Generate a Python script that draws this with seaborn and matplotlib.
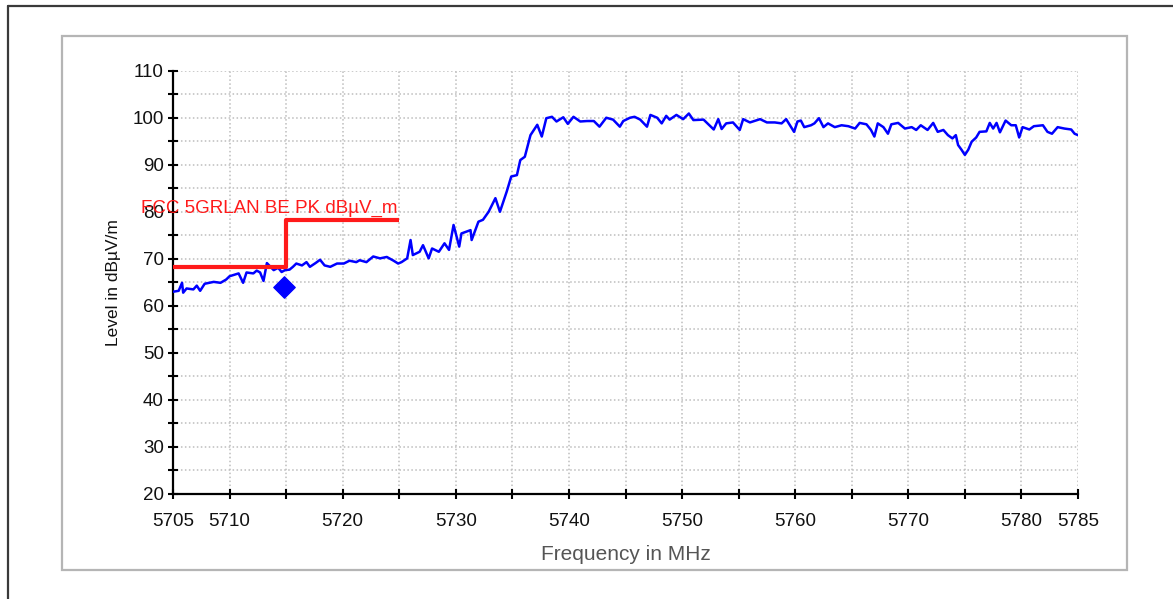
import matplotlib
matplotlib.use("Agg")
import matplotlib.pyplot as plt
from matplotlib.patches import Rectangle
from matplotlib.lines import Line2D
from matplotlib.ticker import FixedLocator
import pandas as pd
import seaborn as sns

# Measured emission trace (MHz, dBuV/m)
freq_mhz = [
    5705.0, 5705.5, 5705.8, 5705.9, 5706.2, 5706.8, 5707.1, 5707.4, 5707.8, 5708.6,
    5709.2, 5709.7, 5710.0, 5710.8, 5711.2, 5711.5, 5712.1, 5712.4, 5712.7, 5713.0,
    5713.3, 5713.9, 5714.3, 5714.6, 5714.9, 5715.3, 5715.6, 5715.9, 5716.4, 5716.8,
    5717.1, 5717.6, 5718.0, 5718.4, 5718.9, 5719.5, 5720.1, 5720.6, 5721.2, 5721.5,
    5722.1, 5722.7, 5723.3, 5723.9, 5724.5, 5724.9, 5725.2, 5725.7, 5726.0, 5726.2,
    5726.8, 5727.1, 5727.6, 5727.9, 5728.5, 5729.0, 5729.4, 5729.8, 5730.3, 5730.5,
    5731.3, 5731.4, 5732.0, 5732.4, 5732.9, 5733.5, 5733.9, 5734.5, 5734.9, 5735.4,
    5735.7, 5736.1, 5736.6, 5737.2, 5737.6, 5738.0, 5738.5, 5738.9, 5739.5, 5739.9,
    5740.4, 5741.0, 5741.6, 5742.2, 5742.7, 5743.3, 5743.9, 5744.5, 5744.8, 5745.4,
    5745.8, 5746.3, 5746.9, 5747.2, 5747.8, 5748.2, 5748.6, 5748.9, 5749.5, 5750.1,
    5750.6, 5751.0, 5751.9, 5752.8, 5753.2, 5753.5, 5753.9, 5754.5, 5755.1, 5755.4,
    5756.0, 5756.9, 5757.5, 5758.2, 5758.8, 5759.2, 5759.9, 5760.2, 5760.5, 5760.8,
    5761.4, 5761.7, 5762.1, 5762.5, 5762.9, 5763.5, 5764.1, 5764.7, 5765.3, 5765.7,
    5766.3, 5766.7, 5767.0, 5767.3, 5767.8, 5768.2, 5768.5, 5769.1, 5769.7, 5770.3,
    5770.7, 5771.1, 5771.7, 5772.2, 5772.6, 5773.1, 5773.5, 5773.9, 5774.2, 5774.4,
    5774.7, 5775.0, 5775.3, 5775.6, 5776.0, 5776.3, 5776.9, 5777.2, 5777.5, 5777.8,
    5778.1, 5778.6, 5779.1, 5779.5, 5779.8, 5780.1, 5780.7, 5781.1, 5781.9, 5782.3,
    5782.7, 5783.2, 5783.8, 5784.4, 5784.7, 5785.0,
]
level_dbuv = [
    63.0, 63.2, 64.9, 62.8, 63.7, 63.5, 64.3, 63.2, 64.7, 65.1,
    64.9, 65.6, 66.3, 66.9, 64.9, 67.1, 66.9, 67.5, 67.1, 65.3,
    69.1, 67.6, 68.1, 67.2, 67.6, 67.7, 68.3, 69.0, 68.6, 69.3,
    68.3, 69.1, 69.8, 68.6, 68.3, 69.0, 69.0, 69.6, 69.3, 69.7,
    69.3, 70.5, 70.1, 70.4, 69.6, 69.0, 69.3, 70.1, 74.0, 70.8,
    71.5, 72.9, 70.1, 72.2, 71.5, 73.3, 71.9, 77.2, 72.6, 75.4,
    76.1, 74.0, 77.9, 78.3, 80.0, 82.9, 80.0, 84.3, 87.5, 87.8,
    91.0, 91.7, 96.3, 98.5, 96.0, 99.9, 100.2, 99.2, 100.1, 98.7,
    100.2, 99.2, 99.3, 99.3, 98.1, 100.0, 99.6, 98.1, 99.3, 100.0,
    100.2, 99.6, 98.1, 100.6, 100.0, 98.8, 100.4, 99.6, 100.6, 99.7,
    100.9, 99.5, 99.6, 97.5, 99.7, 97.6, 98.8, 99.0, 97.4, 99.7,
    99.0, 99.7, 99.0, 99.0, 98.8, 99.7, 97.0, 99.2, 99.4, 98.0,
    98.4, 98.8, 99.9, 98.0, 98.8, 98.0, 98.4, 98.2, 97.7, 98.9,
    98.6, 97.4, 96.0, 98.8, 98.0, 96.6, 98.6, 98.9, 97.7, 98.0,
    97.4, 98.4, 97.4, 98.9, 97.0, 97.4, 96.3, 95.6, 96.3, 94.2,
    93.2, 92.1, 93.2, 94.9, 95.8, 97.0, 97.1, 98.9, 97.7, 98.9,
    96.9, 99.4, 98.4, 98.4, 95.8, 98.0, 97.5, 98.2, 98.4, 97.0,
    96.6, 98.0, 97.7, 97.5, 96.6, 96.3,
]

# FCC 5 GHz band-edge peak limit (stepped)
limit_freq = [5705, 5715, 5715, 5725]
limit_level = [68.2, 68.2, 78.2, 78.2]
limit_name = "FCC 5GRLAN BE PK dBµV_m"

# Final peak measurement
peak_freq = [5714.8]
peak_level = [64.1]

x_major = [5705, 5710, 5720, 5730, 5740, 5750, 5760, 5770, 5780, 5785]
x_minor = [5715, 5725, 5735, 5745, 5755, 5765, 5775]
y_major = [20, 30, 40, 50, 60, 70, 80, 90, 100, 110]
y_minor = [25, 35, 45, 55, 65, 75, 85, 95, 105]

sns.set_style("white")
plt.rcParams["font.family"] = ["Liberation Sans", "DejaVu Sans"]

W, H = 1173, 599
fig = plt.figure(figsize=(W / 100, H / 100), dpi=100)
fig.patch.set_facecolor("white")


def px_x(x):
    return x / W


def px_y(y):
    return 1 - y / H


# outer frame (left and top edges) and inner panel border
fig.add_artist(Line2D([px_x(8), px_x(8)], [px_y(6), 0], color="#3a3a3a", lw=1.6))
fig.add_artist(Line2D([px_x(8), 1], [px_y(6), px_y(6)], color="#3a3a3a", lw=1.6))
fig.add_artist(Rectangle((px_x(62), px_y(570)), px_x(1127) - px_x(62), px_y(36) - px_y(570),
                         fill=False, edgecolor="#b5b5b5", lw=1.6))

ax = fig.add_axes([px_x(173), px_y(494), px_x(1078) - px_x(173), px_y(70.7) - px_y(494)])
ax.set_facecolor("white")

trace = pd.DataFrame({"freq": freq_mhz, "level": level_dbuv})
limit = pd.DataFrame({"freq": limit_freq, "level": limit_level})
peak = pd.DataFrame({"freq": peak_freq, "level": peak_level})

sns.lineplot(data=trace, x="freq", y="level", estimator=None, sort=False,
             color="#0000ff", lw=1.8, ax=ax, zorder=3)
sns.lineplot(data=limit, x="freq", y="level", estimator=None, sort=False,
             color="#ff1a1a", lw=3.0, ax=ax, zorder=4, solid_capstyle="butt")
sns.scatterplot(data=peak, x="freq", y="level", marker="D", s=120, color="#0000ff",
                edgecolor="#0000ff", ax=ax, zorder=5)

ax.text(5702.2, 79.7, limit_name, color="#ff1a1a", fontsize=13.5, va="baseline",
        ha="left", clip_on=False, zorder=6)

ax.set_xlim(5705, 5785)
ax.set_ylim(20, 110)
ax.xaxis.set_major_locator(FixedLocator(x_major))
ax.xaxis.set_minor_locator(FixedLocator(x_minor))
ax.yaxis.set_major_locator(FixedLocator(y_major))
ax.yaxis.set_minor_locator(FixedLocator(y_minor))

ax.grid(which="both", color="#bdbdbd", linestyle=(0, (1, 1.6)), lw=1.1)
ax.set_axisbelow(True)

for side in ("top", "right"):
    ax.spines[side].set_visible(False)
for side in ("left", "bottom"):
    ax.spines[side].set_color("black")
    ax.spines[side].set_linewidth(1.6)

ax.tick_params(which="both", bottom=True, left=True, top=False, right=False,
               direction="inout", length=7, width=1.5, color="black")
ax.tick_params(axis="x", which="major", pad=10, labelsize=13.5, labelcolor="#111111")
ax.tick_params(axis="y", which="major", pad=3, labelsize=13.5, labelcolor="#111111")

ax.set_xlabel("Frequency in MHz", fontsize=15, color="#555555", labelpad=11)
ax.set_ylabel("Level in dBµV/m", fontsize=12.5, color="#111111", labelpad=8)

fig.savefig("out.png", dpi=100, facecolor="white")
